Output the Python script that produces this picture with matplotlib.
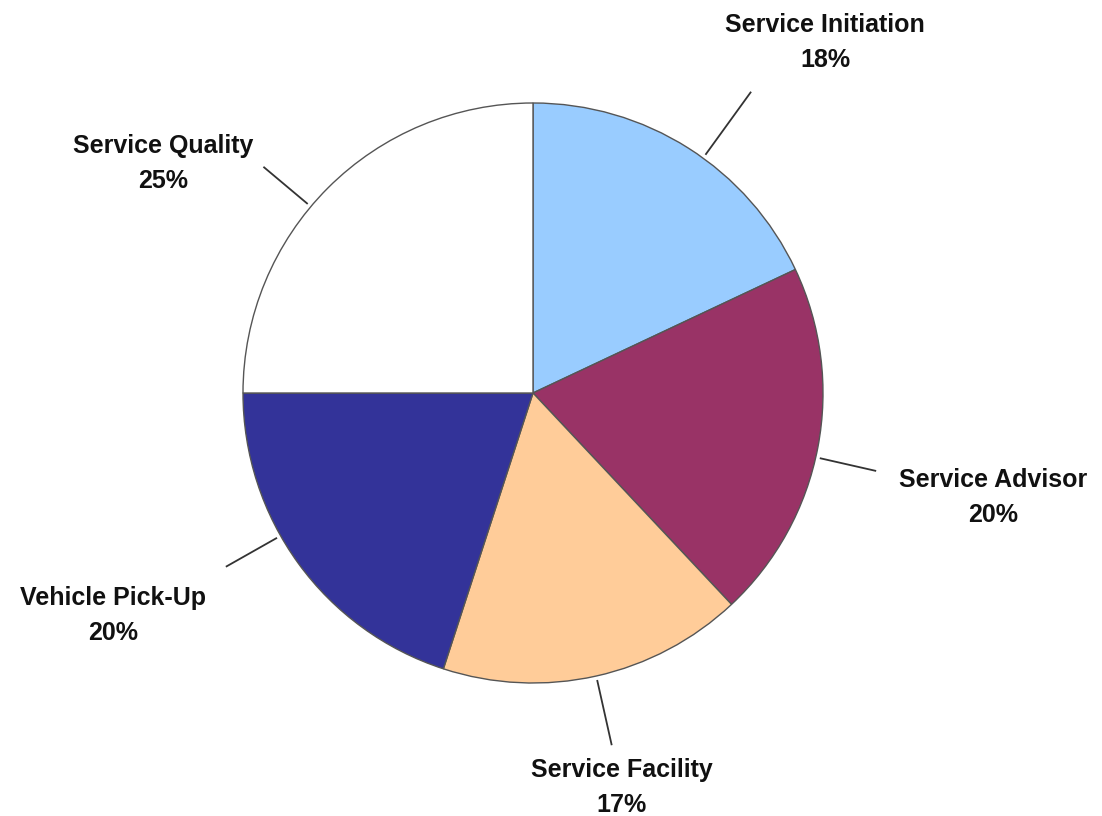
import numpy as np
import matplotlib
matplotlib.use("Agg")
import matplotlib.pyplot as plt

categories = ["Service Initiation", "Service Advisor", "Service Facility",
              "Vehicle Pick-Up", "Service Quality"]
shares = [18, 20, 17, 20, 25]
pct_labels = ["18%", "20%", "17%", "20%", "25%"]
colors = ["#99CCFF", "#993366", "#FFCC99", "#333399", "#FFFFFF"]

W, H = 1102, 816
fig = plt.figure(figsize=(W / 100, H / 100), dpi=100)
ax = fig.add_axes([0, 0, 1, 1])

cx, cy, R = 533, H - 393, 290
ax.pie(shares, colors=colors, startangle=90, counterclock=False,
       radius=R, center=(cx, cy),
       wedgeprops=dict(edgecolor="#555555", linewidth=1.0))
ax.set_xlim(0, W)
ax.set_ylim(0, H)
ax.set_aspect("equal")
ax.axis("off")

# leader line layout: length, small angular nudge (deg), label anchor (px from top)
lead_len = [76, 56, 65, 57, 56]
lead_nudge = [-3.5, -2.0, 0.0, -6.5, 5.0]
label_pos = [(825, 25), (993, 480), (622, 770), (113, 598), (163, 146)]

total = sum(shares)
cum = 0
for i, v in enumerate(shares):
    mid = cum + v / 2
    cum += v
    ang = np.deg2rad(90 - mid / total * 360 + lead_nudge[i])
    r0 = R + 5
    r1 = r0 + lead_len[i]
    ax.plot([cx + r0 * np.cos(ang), cx + r1 * np.cos(ang)],
            [cy + r0 * np.sin(ang), cy + r1 * np.sin(ang)],
            color="#333333", linewidth=1.3)
    lx, ly = label_pos[i]
    ax.text(lx, H - ly, categories[i], ha="center", va="center",
            fontsize=18, fontweight="bold", family="Liberation Sans",
            color="#111111")
    ax.text(lx, H - ly - 35, pct_labels[i], ha="center", va="center",
            fontsize=18, fontweight="bold", family="Liberation Sans",
            color="#111111")

fig.savefig("out.png", dpi=100)
